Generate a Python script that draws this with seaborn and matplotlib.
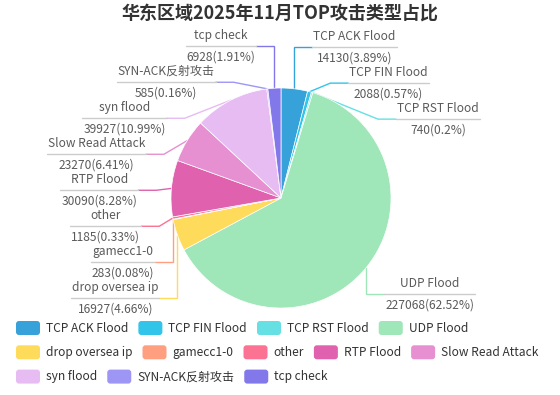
import matplotlib
matplotlib.use('Agg')
import matplotlib.pyplot as plt
from matplotlib.patches import FancyBboxPatch
import numpy as np
import seaborn as sns

# ---------------- data ----------------
title = '华东区域2025年11月TOP攻击类型占比'
categories = ['TCP ACK Flood', 'TCP FIN Flood', 'TCP RST Flood', 'UDP Flood',
              'drop oversea ip', 'gamecc1-0', 'other', 'RTP Flood',
              'Slow Read Attack', 'syn flood', 'SYN-ACK反射攻击', 'tcp check']
values = [14130, 2088, 740, 227068, 16927, 283, 1185, 30090, 23270, 39927, 585, 6928]
color_hex = ['#37A2DA', '#32C5E9', '#67E0E3', '#9FE6B8', '#FFDB5C', '#ff9f7f',
             '#fb7293', '#E062AE', '#E690D1', '#e7bcf3', '#9d96f5', '#8378EA']

# ---------------- style ----------------
sns.set_theme(style='white')
plt.rcParams['font.family'] = ['Noto Sans CJK SC', 'DejaVu Sans']
colors = sns.color_palette(color_hex)

W, H = 560, 395
fig = plt.figure(figsize=(W / 100, H / 100), dpi=100)
ax = fig.add_axes([0, 0, 1, 1])

cx, cy, R = 281, 198, 110
wedges, _ = ax.pie(values, colors=colors, startangle=-90, counterclock=True,
                   center=(cx, cy), radius=R, frame=True,
                   wedgeprops=dict(edgecolor='white', linewidth=0.5))
ax.set_xlim(0, W)
ax.set_ylim(H, 0)
ax.set_aspect('equal')
ax.axis('off')

fs = 8.64  # 12 px
renderer = fig.canvas.get_renderer()
total = float(sum(values))

# ---------------- labels ----------------
Rn, Re, L2, gap = 152, 125, 18, 36
items = []
for i, w in enumerate(wedges):
    phi = np.deg2rad((w.theta1 + w.theta2) / 2)
    c, s = np.cos(phi), np.sin(phi)
    d = 1 if c >= 0 else -1
    items.append(dict(i=i, c=c, s=s, d=d, y=cy + Rn * s))

for side in (1, -1):
    grp = sorted([it for it in items if it['d'] == side], key=lambda t: t['y'])
    last = -1e9
    for it in grp:
        if it['y'] < last + gap:
            it['y'] = last + gap
        last = it['y']

for it in items:
    i, c, s, d, y = it['i'], it['c'], it['s'], it['d'], it['y']
    col = color_hex[i]
    ancx, ancy = cx + R * c, cy + R * s
    dy = y - cy
    ex = cx + d * max(np.sqrt(max(Re ** 2 - dy ** 2, 0)), abs(R * c))
    xs = ex + d * L2
    ax.plot([ancx, ex, xs], [ancy, y, y], color=col, lw=1, zorder=0.5,
            solid_joinstyle='miter')
    pct = round(values[i] / total * 100, 2)
    name = categories[i]
    val = f'{values[i]}({pct:g}%)'
    tn = ax.text(0, 0, name, fontsize=fs, color='#5a5a5a', ha='center', va='center')
    tv = ax.text(0, 0, val, fontsize=fs, color='#5a5a5a', ha='center', va='center')
    wn = tn.get_window_extent(renderer).width
    wv = tv.get_window_extent(renderer).width
    wmax = max(wn, wv) + 2
    xc = xs + d * wmax / 2
    tn.set_position((xc, y - 11))
    tv.set_position((xc, y + 11))
    ax.plot([xs, xs + d * wmax], [y, y], color='#cccccc', lw=1, zorder=0.5)

# ---------------- title ----------------
ax.text(W / 2, 13, title, fontsize=13, fontweight='bold', color='#333333',
        ha='center', va='center')

# ---------------- legend ----------------
lx0, ly0, row_h = 16, 328, 24.3
sw, sh = 24, 14
x, y = lx0, ly0
for i, name in enumerate(categories):
    t = ax.text(0, 0, name, fontsize=fs, color='#333333', ha='left', va='center')
    tw = t.get_window_extent(renderer).width
    item_w = sw + 6 + tw
    if x + item_w > W - 15 and x > lx0:
        x = lx0
        y += row_h
    ax.add_patch(FancyBboxPatch((x, y - sh / 2), sw, sh,
                                boxstyle='round,pad=0,rounding_size=3',
                                fc=color_hex[i], ec='none'))
    t.set_position((x + sw + 6, y))
    x += item_w + 10

fig.savefig('out.png', dpi=100)
